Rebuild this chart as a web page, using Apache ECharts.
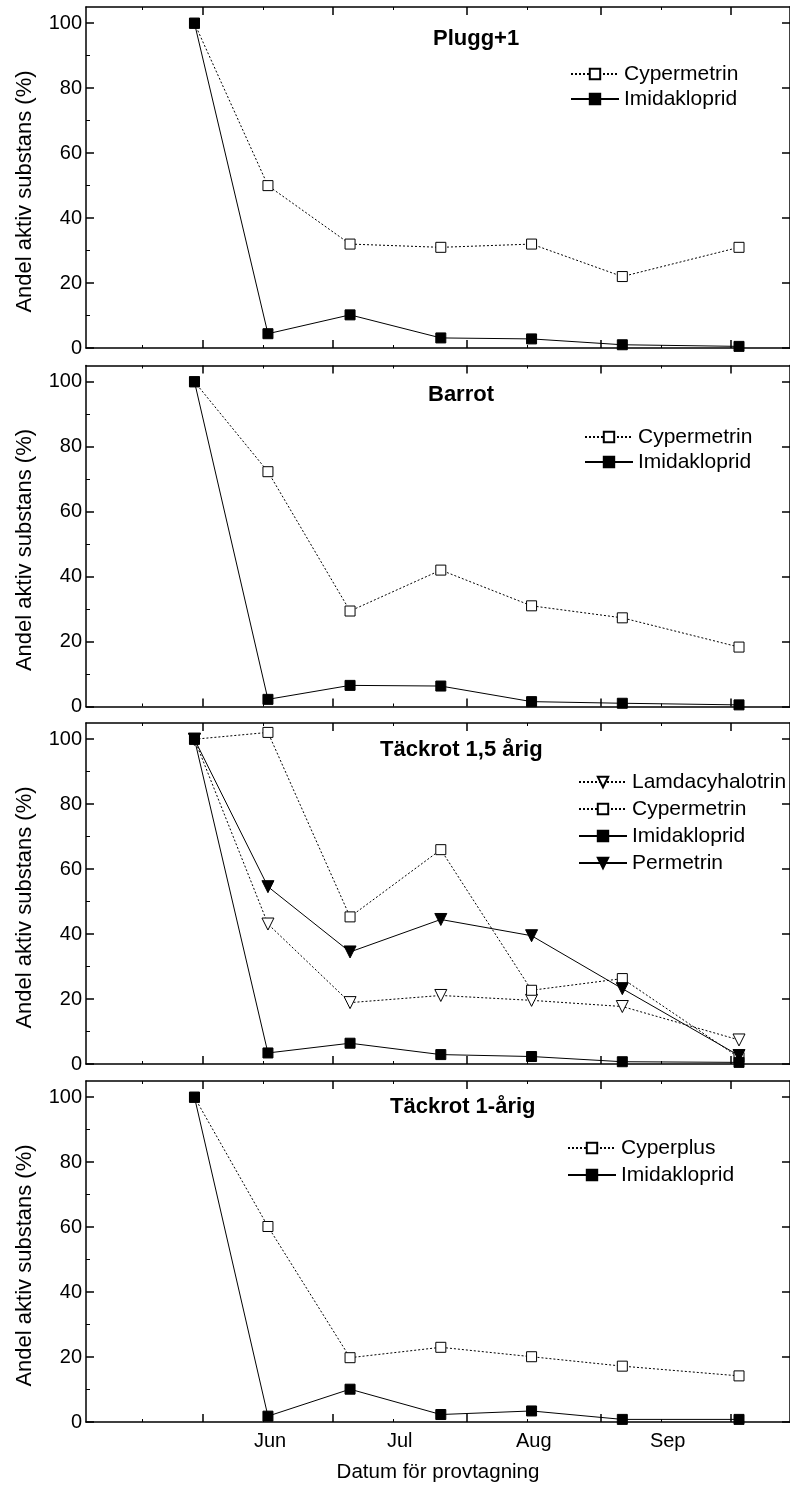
<!DOCTYPE html>
<html>
<head>
<meta charset="utf-8">
<script src="https://cdn.jsdelivr.net/npm/echarts@6/dist/echarts.min.js"></script>
<style>
  html, body { margin: 0; padding: 0; background: #fff; }
  #chart { width: 790px; height: 1487px; }
</style>
</head>
<body>
<div id="chart"></div>
<script>
// x in days from 1 June
const sampleDays = [-2, 15, 34, 55, 76, 97, 124];
const monthTickDays = [0, 30, 61, 92, 122];
const minorTickDays = [-14, 14, 44, 75, 106];
const monthLabelDays = [15.5, 45.5, 76.5, 107.5];
const monthLabels = ['Jun', 'Jul', 'Aug', 'Sep'];
const yTicks = [0, 20, 40, 60, 80, 100];
const yMinorTicks = [10, 30, 50, 70, 90];

const panelTitles = ['Plugg+1', 'Barrot', 'Täckrot 1,5 årig', 'Täckrot 1-årig'];

const pluggCyp = [100, 50, 32, 31, 32, 22, 31];
const pluggImid = [100, 4.4, 10.2, 3.1, 2.8, 1.0, 0.5];
const barrotCyp = [100, 72.3, 29.4, 42, 31, 27.3, 18.3];
const barrotImid = [100, 2.2, 6.5, 6.3, 1.5, 1.0, 0.5];
const t15Lamda = [100, 43.1, 18.9, 21.1, 19.6, 17.7, 7.4];
const t15Cyp = [100, 102.1, 45.3, 66, 22.7, 26.3, 2];
const t15Imid = [100, 3.4, 6.4, 2.9, 2.3, 0.7, 0.5];
const t15Perm = [100, 54.6, 34.5, 44.5, 39.5, 23.2, 2.6];
const t1Cyper = [100, 60.2, 19.8, 23, 20.1, 17.2, 14.2];
const t1Imid = [100, 1.8, 10.1, 2.3, 3.4, 0.8, 0.8];

const FONT = 'Liberation Sans, Arial, sans-serif';
const gridTops = [7, 365.5, 723, 1081];
const XMIN = -27.1, XMAX = 135.8;

const styles = {
  openSquare: { symbol: 'rect', symbolSize: 10, symbolRotate: 0, line: [2, 2], fill: '#fff' },
  fillSquare: { symbol: 'rect', symbolSize: 10, symbolRotate: 0, line: 'solid', fill: '#000' },
  openTri: { symbol: 'triangle', symbolSize: 12, symbolRotate: 180, line: [2, 2], fill: '#fff' },
  fillTri: { symbol: 'triangle', symbolSize: 12, symbolRotate: 180, line: 'solid', fill: '#000' }
};

const panels = [
  { series: [['Cypermetrin', pluggCyp, 'openSquare'], ['Imidakloprid', pluggImid, 'fillSquare']],
    legend: { left: 570, top: 63.5, gap: 4 } },
  { series: [['Cypermetrin', barrotCyp, 'openSquare'], ['Imidakloprid', barrotImid, 'fillSquare']],
    legend: { left: 584, top: 426.5, gap: 4 } },
  { series: [['Lamdacyhalotrin', t15Lamda, 'openTri'], ['Cypermetrin', t15Cyp, 'openSquare'],
             ['Imidakloprid', t15Imid, 'fillSquare'], ['Permetrin', t15Perm, 'fillTri']],
    legend: { left: 578, top: 771.5, gap: 6 } },
  { series: [['Cyperplus', t1Cyper, 'openSquare'], ['Imidakloprid', t1Imid, 'fillSquare']],
    legend: { left: 567, top: 1137.5, gap: 6 } }
];
const titlePos = [[433, 28], [428, 384], [380, 739], [390, 1096]];

const grid = [], xAxis = [], yAxis = [], series = [], legend = [], title = [];
const lineStyleAxis = { color: '#000', width: 1.5 };

panels.forEach((p, i) => {
  grid.push({ left: 86, top: gridTops[i], width: 709, height: 341 });
  const last = i === panels.length - 1;
  const xBase = { gridIndex: i, type: 'value', min: XMIN, max: XMAX, splitLine: { show: false } };
  xAxis.push(Object.assign({}, xBase, {
    position: 'bottom',
    axisLine: { onZero: false, lineStyle: lineStyleAxis },
    axisTick: { inside: true, length: 8, customValues: monthTickDays, lineStyle: { color: '#000', width: 1.5 } },
    axisLabel: { show: last, customValues: monthLabelDays, margin: 9, color: '#000', fontSize: 20, fontFamily: FONT,
      formatter: v => monthLabels[monthLabelDays.indexOf(v)] || '' },
    name: last ? 'Datum för provtagning' : '',
    nameLocation: 'middle', nameGap: 40,
    nameTextStyle: { color: '#000', fontSize: 20.5, fontFamily: FONT }
  }));
  xAxis.push(Object.assign({}, xBase, {
    position: 'top',
    axisLine: { onZero: false, lineStyle: lineStyleAxis },
    axisTick: { inside: true, length: 8, customValues: monthTickDays, lineStyle: { color: '#000', width: 1.5 } },
    axisLabel: { show: false }
  }));
  xAxis.push(Object.assign({}, xBase, {
    position: 'bottom', axisLine: { show: false, onZero: false },
    axisTick: { inside: true, length: 3, customValues: minorTickDays, lineStyle: { color: '#000', width: 1 } },
    axisLabel: { show: false }
  }));
  xAxis.push(Object.assign({}, xBase, {
    position: 'top', axisLine: { show: false, onZero: false },
    axisTick: { inside: true, length: 3, customValues: minorTickDays, lineStyle: { color: '#000', width: 1 } },
    axisLabel: { show: false }
  }));

  const yBase = { gridIndex: i, type: 'value', min: 0, max: 105, splitLine: { show: false } };
  yAxis.push(Object.assign({}, yBase, {
    position: 'left',
    axisLine: { show: true, onZero: false, lineStyle: lineStyleAxis },
    axisTick: { show: true, inside: true, length: 8, customValues: yTicks, lineStyle: { color: '#000', width: 1.5 } },
    axisLabel: { customValues: yTicks, margin: 4, color: '#000', fontSize: 20, fontFamily: FONT },
    name: 'Andel aktiv substans (%)', nameLocation: 'middle', nameGap: 50,
    nameTextStyle: { color: '#000', fontSize: 22, fontFamily: FONT, padding: [0, 28, 0, 0] }
  }));
  yAxis.push(Object.assign({}, yBase, {
    position: 'right',
    axisLine: { show: true, onZero: false, lineStyle: lineStyleAxis },
    axisTick: { show: true, inside: true, length: 8, customValues: yTicks, lineStyle: { color: '#000', width: 1.5 } },
    axisLabel: { show: false }
  }));
  yAxis.push(Object.assign({}, yBase, {
    position: 'left', axisLine: { show: false, onZero: false },
    axisTick: { show: true, inside: true, length: 4, customValues: yMinorTicks, lineStyle: { color: '#000', width: 1 } },
    axisLabel: { show: false }
  }));

  p.series.forEach(([name, vals, key]) => {
    const st = styles[key];
    series.push({
      name, type: 'line', xAxisIndex: i * 4, yAxisIndex: i * 3,
      data: sampleDays.map((d, k) => [d, vals[k]]),
      symbol: st.symbol, symbolSize: st.symbolSize, symbolRotate: st.symbolRotate,
      showAllSymbol: true,
      lineStyle: { color: '#000', width: 1, type: st.line },
      itemStyle: { color: st.fill, borderColor: '#000', borderWidth: 1, opacity: 1 },
      emphasis: { disabled: true }
    });
  });

  legend.push({
    data: p.series.map(s => s[0]),
    orient: 'vertical', left: p.legend.left, top: p.legend.top, padding: 0,
    itemWidth: 48, itemHeight: 13, itemGap: p.legend.gap, selectedMode: false,
    textStyle: { color: '#000', fontSize: 21, fontFamily: FONT }
  });

  title.push({
    text: panelTitles[i], left: titlePos[i][0], top: titlePos[i][1], padding: 0,
    textStyle: { color: '#000', fontSize: 22, fontWeight: 'bold', fontFamily: FONT }
  });
});

const chart = echarts.init(document.getElementById('chart'));
chart.setOption({
  animation: false,
  backgroundColor: '#fff',
  title, grid, xAxis, yAxis, legend, series
});
</script>
</body>
</html>
